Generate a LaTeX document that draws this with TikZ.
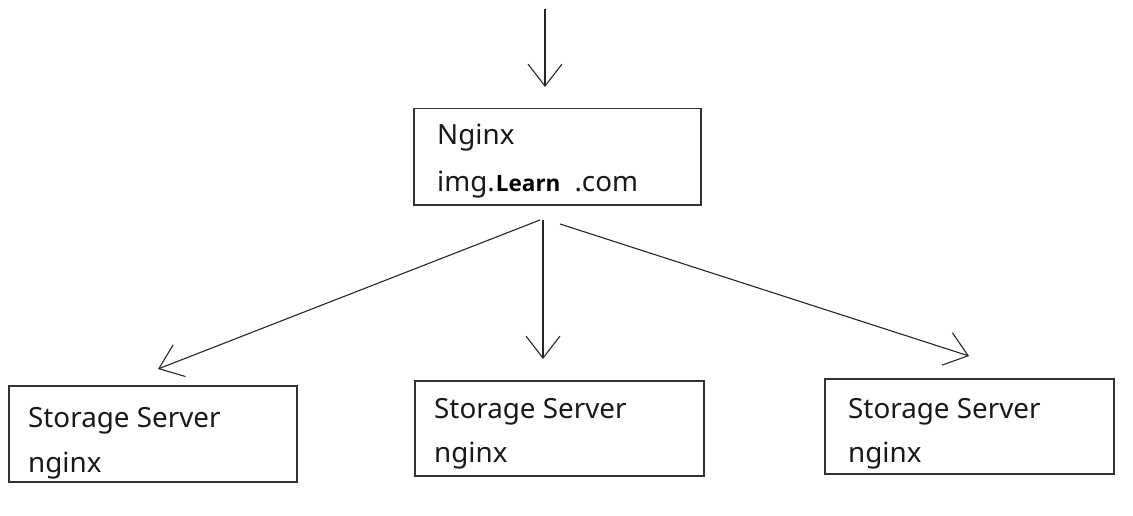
\documentclass[tikz,border=0pt]{standalone}
\usepackage{fontspec}
\setmainfont{Noto Sans}
\newfontfamily\lrnfont{Open Sans}
\usetikzlibrary{arrows.meta}
\begin{document}
\begin{tikzpicture}[x=1pt,y=-1pt,
  box/.style={draw=black!80,line width=1.5pt,rectangle,minimum width=287pt,minimum height=96pt,inner sep=0pt,anchor=north west},
  txt/.style={anchor=base west,inner sep=0pt,font=\fontsize{27.8}{32}\selectfont,text=black!90},
  conn/.style={draw=black!85,line width=1.1pt,-{Straight Barb[length=22pt,width=34pt,line width=1.1pt]}}]
\useasboundingbox (0,0) rectangle (1133,516);
% boxes
\node[box] (top) at (413,108) {};
\node[box,minimum width=288pt] (left) at (8,385) {};
\node[box,minimum width=289pt,minimum height=95pt] (mid) at (414,380) {};
\node[box,minimum width=289pt,minimum height=95pt] (right) at (824,378) {};
% texts
\node[txt] (t1) at (437,145) {Nginx};
\node[txt] (t2) at (437,192) {img.\hspace{1pt}{\lrnfont\fontsize{22.5}{26}\selectfont\bfseries\color{black}Learn}\hspace{14pt}.com};
\node[txt] (l1) at (28,427) {Storage Server};
\node[txt] (l2) at (28,472) {nginx};
\node[txt] (m1) at (434,418) {Storage Server};
\node[txt] (m2) at (434,462) {nginx};
\node[txt] (r1) at (848,418) {Storage Server};
\node[txt] (r2) at (848,462) {nginx};
% connector ends
\coordinate (in) at (545,9);
\coordinate (inend) at (545,87);
\coordinate (s1) at (540,220);
\coordinate (e1) at (158,369);
\coordinate (s2) at (543,220);
\coordinate (e2) at (543,359);
\coordinate (s3) at (560,224);
\coordinate (e3) at (969,356);
\draw[conn] (in) -- (inend);
\draw[conn] (s1) -- (e1);
\draw[conn] (s2) -- (e2);
\draw[conn] (s3) -- (e3);
\end{tikzpicture}
\end{document}
